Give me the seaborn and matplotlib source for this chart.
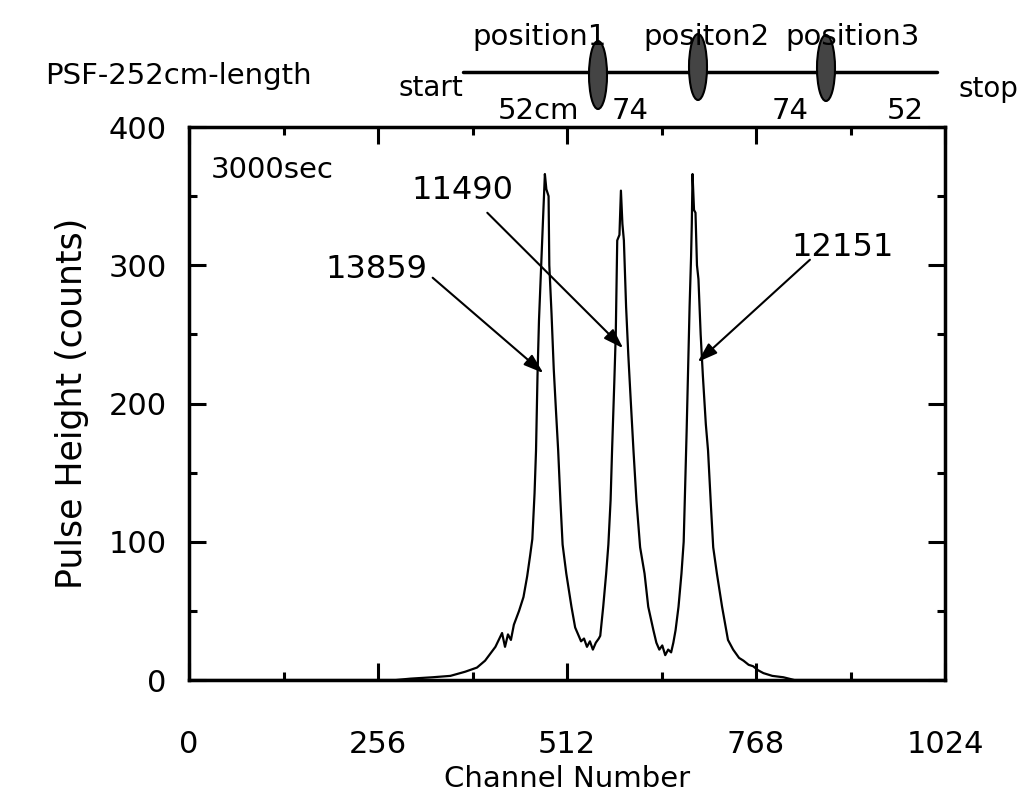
import matplotlib
matplotlib.use("Agg")
import matplotlib.pyplot as plt
import seaborn as sns
import pandas as pd
from matplotlib.patches import Ellipse
from matplotlib.lines import Line2D
from matplotlib.ticker import MultipleLocator

# ---- data ----
channel = [0, 280, 300, 330, 354, 374, 390, 401, 415, 424, 428, 432, 436, 440, 447,
           453, 458, 462, 465, 468, 470, 472, 474, 477, 480, 482, 484, 487, 488, 491,
           494, 497, 500, 503, 506, 511, 518, 523, 527, 531, 535, 539, 543, 547, 551,
           555, 557, 561, 565, 568, 571, 573, 576, 578, 580, 583, 585, 587, 589, 592,
           595, 598, 602, 606, 611, 617, 622, 629, 633, 637, 641, 645, 649, 653, 656,
           659, 663, 667, 670, 672, 674, 676, 678, 680, 681, 682, 684, 686, 688, 690,
           693, 696, 700, 703, 707, 710, 715, 722, 730, 737, 745, 751, 758, 764, 771,
           778, 790, 805, 820, 1024]
counts = [0, 0, 1, 2, 3, 6, 9, 14, 24, 34, 24, 33, 29, 40, 50,
          60, 75, 90, 102, 135, 166, 220, 260, 300, 340, 366, 355, 350, 300, 265,
          225, 195, 166, 130, 98, 77, 53, 38, 33, 28, 30, 24, 28, 22, 27,
          30, 32, 53, 77, 98, 130, 166, 215, 250, 318, 322, 354, 330, 318, 270,
          235, 205, 166, 130, 96, 77, 53, 36, 27, 22, 25, 18, 22, 20, 27,
          36, 53, 77, 100, 140, 180, 225, 270, 306, 330, 366, 340, 338, 300, 290,
          250, 220, 185, 166, 125, 96, 77, 53, 29, 22, 16, 14, 11, 10, 7,
          5, 3, 2, 0, 0]

x_ticks = [0, 256, 512, 768, 1024]
y_ticks = [0, 100, 200, 300, 400]

peak_labels = ["13859", "11490", "12151"]
label_pos = [(254, 297), (371, 354), (885, 313)]
arrow_start = [(330, 291), (404, 338), (841, 304)]
arrow_tip = [(480, 222), (588, 240), (689, 230)]

df = pd.DataFrame({"Channel": channel, "Counts": counts})

sns.set_style("ticks")
plt.rcParams["font.family"] = ["DejaVu Sans"]
plt.rcParams["text.color"] = "black"
plt.rcParams["axes.labelcolor"] = "black"
plt.rcParams["xtick.color"] = "black"
plt.rcParams["ytick.color"] = "black"

fig = plt.figure(figsize=(10.29, 7.91), dpi=100)
ax = fig.add_axes([0.1837, 0.1403, 0.7347, 0.6991])

sns.lineplot(data=df, x="Channel", y="Counts", color="black", linewidth=1.6, ax=ax)

ax.set_xlim(0, 1024)
ax.set_ylim(0, 400)
ax.set_xticks(x_ticks)
ax.set_yticks(y_ticks)
ax.xaxis.set_minor_locator(MultipleLocator(128))
ax.yaxis.set_minor_locator(MultipleLocator(50))
ax.tick_params(which="both", direction="in", top=True, right=True, width=2.2, colors="black")
ax.tick_params(which="major", length=12)
ax.tick_params(which="minor", length=6)
ax.tick_params(axis="x", which="major", labelsize=22, pad=36)
ax.tick_params(axis="y", which="major", labelsize=22, pad=16)
for s in ax.spines.values():
    s.set_linewidth(2.5)
    s.set_color("black")

ax.set_xlabel("Channel Number", fontsize=21, labelpad=4)
ax.set_ylabel("Pulse Height (counts)", fontsize=25, labelpad=14)

ax.text(30, 369, "3000sec", fontsize=21, ha="left", va="center")

for lab, (tx, ty), (sx, sy), (ex, ey) in zip(peak_labels, label_pos, arrow_start, arrow_tip):
    ax.text(tx, ty, lab, fontsize=23, ha="center", va="center")
    ax.annotate("", xy=(ex, ey), xytext=(sx, sy),
                arrowprops=dict(arrowstyle="-|>,head_length=1.2,head_width=0.4",
                                color="black", lw=1.5, shrinkA=0, shrinkB=0))

# ---- top schematic (fibre with three source positions) ----
W, H = 1029.0, 791.0
def fx(px):
    return px / W
def fy(py):
    return 1 - py / H

fig.text(fx(45), fy(76), "PSF-252cm-length", fontsize=21, ha="left", va="center")
fig.text(fx(398), fy(88), "start", fontsize=20, ha="left", va="center")
fig.text(fx(958), fy(89), "stop", fontsize=20, ha="left", va="center")
fig.add_artist(Line2D([fx(463), fx(937)], [fy(72), fy(72)], color="black", lw=2.5,
                      transform=fig.transFigure))
for cx, cy, h in [(598, 75, 68), (698, 67, 66), (826, 68, 66)]:
    fig.add_artist(Ellipse((fx(cx), fy(cy)), 18 / W, h / H, transform=fig.transFigure,
                           facecolor="#444444", edgecolor="black", lw=1.5, zorder=3))
for txt, px in [("position1", 540), ("positon2", 706), ("position3", 853)]:
    fig.text(fx(px), fy(37), txt, fontsize=21, ha="center", va="center")
for txt, px in [("52cm", 538), ("74", 630), ("74", 790), ("52", 905)]:
    fig.text(fx(px), fy(111), txt, fontsize=21, ha="center", va="center")

fig.savefig("out.png", dpi=100)
